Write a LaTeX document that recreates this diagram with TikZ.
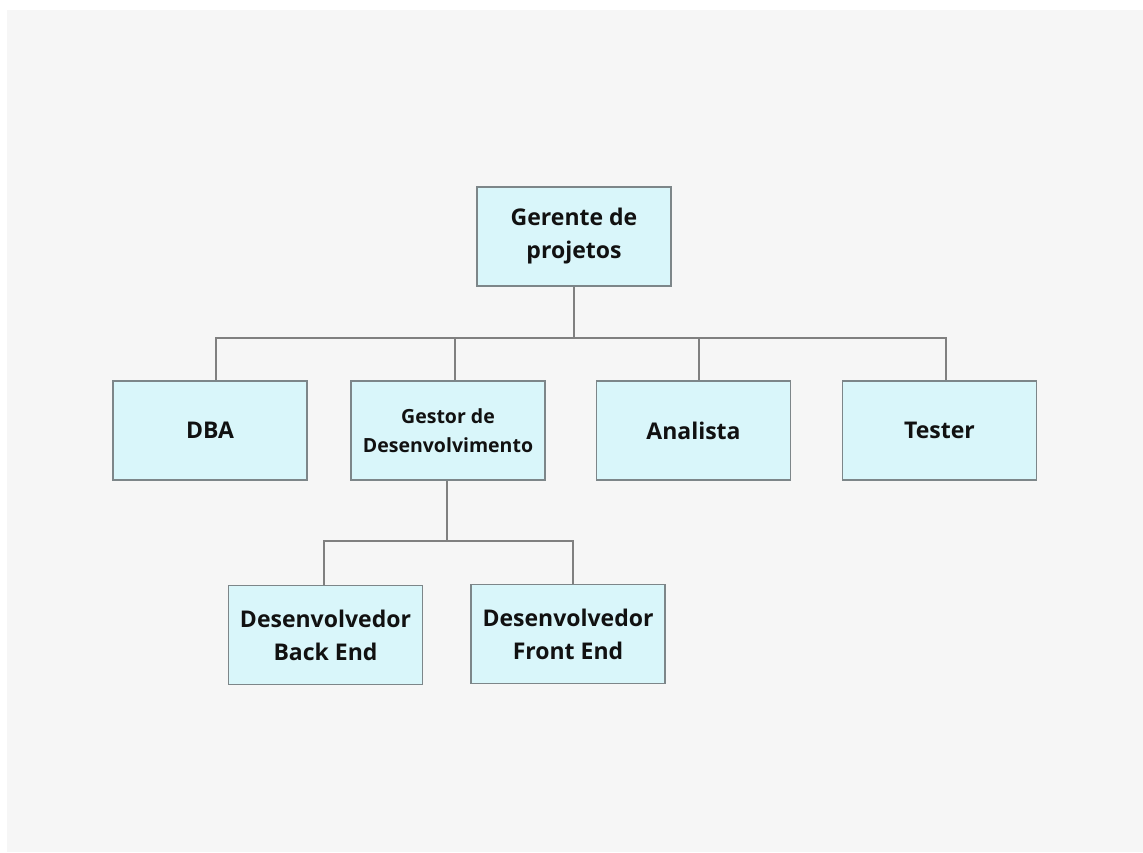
\documentclass[tikz,border=0pt]{standalone}
\usepackage{fontspec}
\setmainfont{Open Sans}
\usepackage{xcolor}
\definecolor{boxfill}{HTML}{D9F6FA}
\definecolor{boxline}{HTML}{7D8689}
\definecolor{wire}{HTML}{808080}
\definecolor{paper}{HTML}{F6F6F6}
\definecolor{ink}{HTML}{111111}
\tikzset{
  cargo/.style={draw=boxline,fill=boxfill,line width=1.3pt,minimum width=194pt,minimum height=99pt,
    inner sep=0pt,align=center,text=ink,font=\fontsize{23}{33}\selectfont\bfseries},
  cargop/.style={cargo,font=\fontsize{19.5}{29}\selectfont\bfseries},
  fio/.style={draw=wire,line width=1.5pt}
}

\begin{document}
\begin{tikzpicture}[x=1pt,y=1pt]

\useasboundingbox (0,0) rectangle (1143,852);
\fill[paper] (7,0) rectangle (1143,842);

\node[cargo] (ger) at (574,615.5) {Gerente de\\projetos};

\node[cargo] (dba) at (210,421.5) {DBA};
\node[cargop] (ges) at (448,421.5) {Gestor de\\Desenvolvimento};
\node[cargo] (ana) at (693.5,421.5) {Analista};
\node[cargo] (tes) at (939.5,421.5) {Tester};

\node[cargo] (back) at (325.5,217) {Desenvolvedor\\Back End};
\node[cargo] (front) at (568,218) {Desenvolvedor\\Front End};

\coordinate (bus) at (574,514);
\coordinate (bus2) at (447,311);

\draw[fio] (ger.south) -- (bus);
\draw[fio] ([xshift=6pt]dba.north) |- (bus);
\draw[fio] ([xshift=7pt]ges.north) |- (bus);
\draw[fio] ([xshift=5.5pt]ana.north) |- (bus);
\draw[fio] ([xshift=6.5pt]tes.north) |- (bus);

\draw[fio] ([xshift=-1pt]ges.south) -- (bus2);
\draw[fio] ([xshift=-1.5pt]back.north) |- (bus2);
\draw[fio] ([xshift=5pt]front.north) |- (bus2);

\end{tikzpicture}
\end{document}
